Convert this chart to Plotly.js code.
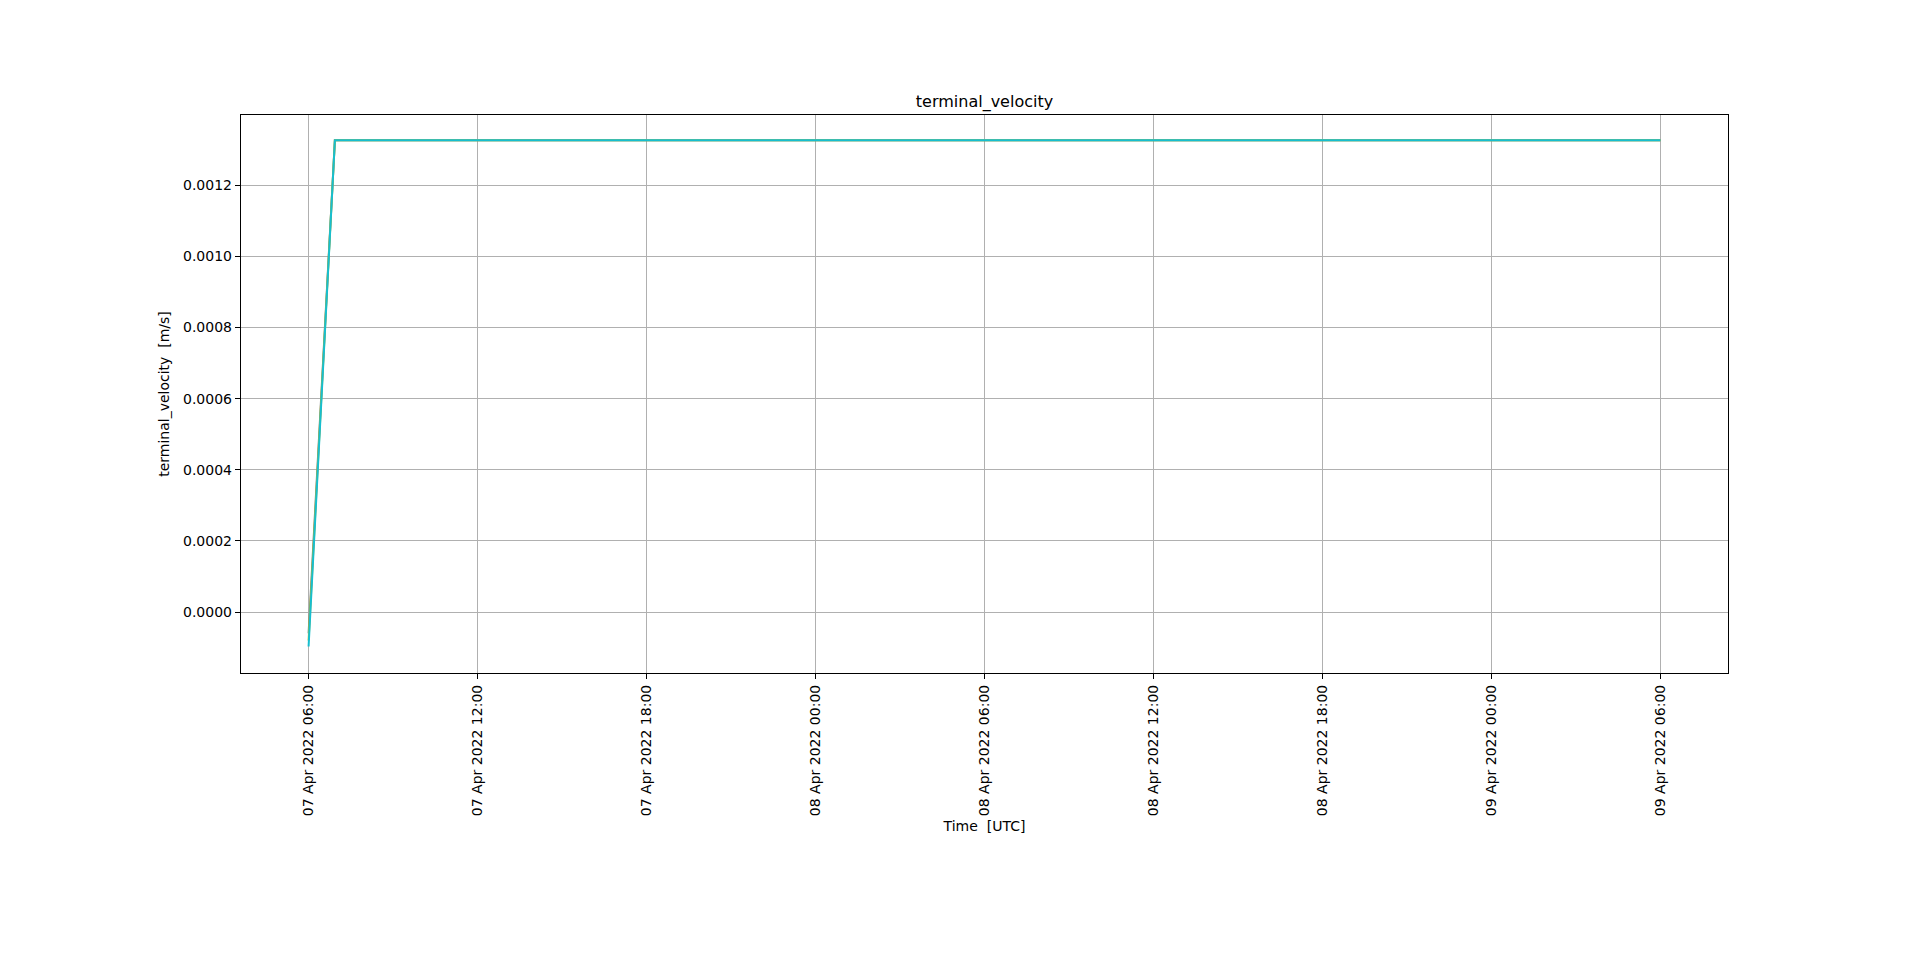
<!DOCTYPE html>
<html>
<head>
<meta charset="utf-8">
<script src="https://cdn.plot.ly/plotly-3.0.1.min.js"></script>
<style>
  body { margin: 0; background: #fff; }
  #chart { width: 1920px; height: 961px; }
</style>
</head>
<body>
<div id="chart"></div>
<script>
// sample times (UTC)
var times = [
  '2022-04-07 06:00', '2022-04-07 06:05', '2022-04-07 06:10', '2022-04-07 06:15',
  '2022-04-07 06:20', '2022-04-07 06:25', '2022-04-07 06:30', '2022-04-07 06:35',
  '2022-04-07 06:40', '2022-04-07 06:45', '2022-04-07 06:50', '2022-04-07 06:55',
  '2022-04-07 06:56', '2022-04-09 06:00'
];

// terminal velocity [m/s] of the overlapping series
var velGray = [
  -0.000060, 0.000067, 0.000194, 0.000321, 0.000448, 0.000575, 0.000702, 0.000829,
  0.000956, 0.001083, 0.001210, 0.001326, 0.001326, 0.001326
];
var velOlive = [
  -0.000080, 0.000047, 0.000174, 0.000301, 0.000428, 0.000555, 0.000682, 0.000809,
  0.000936, 0.001063, 0.001190, 0.001317, 0.001326, 0.001326
];
var velCyan = [
  -0.000097, 0.000030, 0.000157, 0.000284, 0.000411, 0.000538, 0.000665, 0.000792,
  0.000919, 0.001046, 0.001173, 0.001300, 0.001326, 0.001326
];

var tickVals = [
  '2022-04-07 06:00', '2022-04-07 12:00', '2022-04-07 18:00', '2022-04-08 00:00',
  '2022-04-08 06:00', '2022-04-08 12:00', '2022-04-08 18:00', '2022-04-09 00:00',
  '2022-04-09 06:00'
];
var tickText = [
  '07 Apr 2022 06:00', '07 Apr 2022 12:00', '07 Apr 2022 18:00', '08 Apr 2022 00:00',
  '08 Apr 2022 06:00', '08 Apr 2022 12:00', '08 Apr 2022 18:00', '09 Apr 2022 00:00',
  '09 Apr 2022 06:00'
];

var font = { family: 'DejaVu Sans, sans-serif', size: 14, color: '#000' };

function line(y, color) {
  return { x: times, y: y, type: 'scatter', mode: 'lines',
           line: { color: color, width: 2 }, hoverinfo: 'x+y' };
}

var data = [
  line(velGray, '#7f7f7f'),
  line(velOlive, '#bcbd22'),
  line(velCyan, '#17becf')
];

var layout = {
  width: 1920, height: 961,
  margin: { l: 241, r: 192, t: 115, b: 288 },
  paper_bgcolor: '#fff', plot_bgcolor: '#fff',
  font: font,
  showlegend: false,
  title: { text: 'terminal_velocity', font: { family: font.family, size: 16, color: '#000' },
           xref: 'paper', x: 0.5, xanchor: 'center',
           yref: 'container', y: 1 - 101 / 961, yanchor: 'middle' },
  xaxis: {
    type: 'date',
    range: ['2022-04-07 03:36', '2022-04-09 08:24'],
    tickvals: tickVals, ticktext: tickText, tickangle: -90,
    ticks: 'outside', ticklen: 5, tickcolor: '#000', tickwidth: 1,
    showgrid: true, gridcolor: '#b0b0b0', gridwidth: 1,
    showline: true, linecolor: '#000', linewidth: 1.2, mirror: true,
    zeroline: false,
    title: { text: 'Time  [UTC]', font: font, standoff: 6 },
    automargin: false
  },
  yaxis: {
    range: [-0.0001713, 0.0013973],
    tickvals: [0, 0.0002, 0.0004, 0.0006, 0.0008, 0.0010, 0.0012],
    tickformat: '.4f',
    ticks: 'outside', ticklen: 5, tickcolor: '#000', tickwidth: 1,
    showgrid: true, gridcolor: '#b0b0b0', gridwidth: 1,
    showline: true, linecolor: '#000', linewidth: 1.2, mirror: true,
    zeroline: false,
    title: { text: 'terminal_velocity  [m/s]', font: font, standoff: 10 },
    automargin: false
  }
};

Plotly.newPlot('chart', data, layout, { displayModeBar: false, staticPlot: true });
</script>
</body>
</html>
